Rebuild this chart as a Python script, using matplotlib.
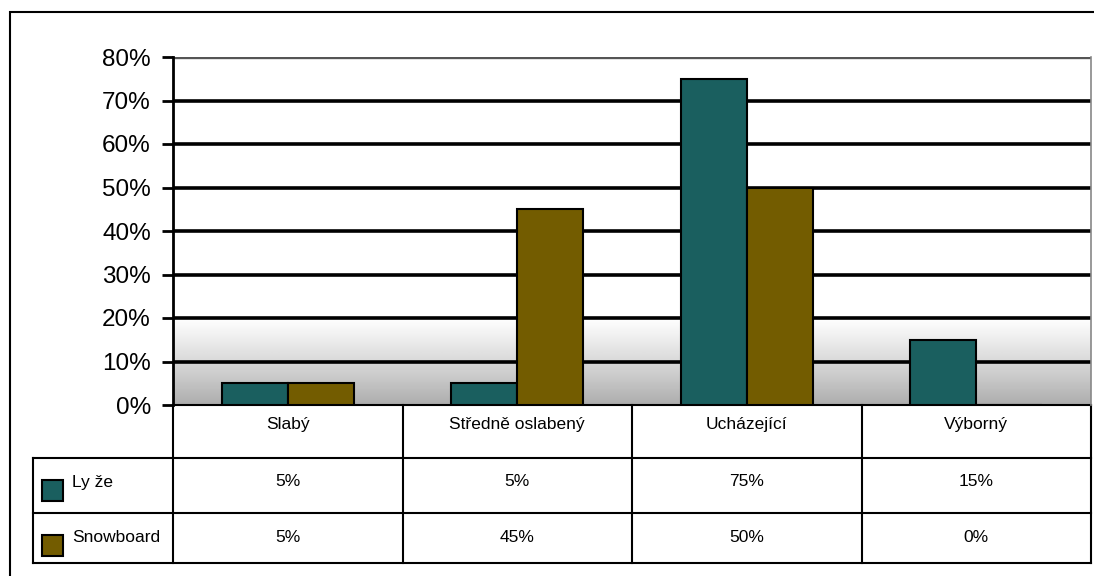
import numpy as np
import matplotlib
matplotlib.use('Agg')
import matplotlib.pyplot as plt
from matplotlib.patches import Rectangle
from matplotlib.lines import Line2D

plt.rcParams['font.family'] = ['Liberation Sans', 'DejaVu Sans']

categories = ['Slabý', 'Středně oslabený', 'Ucházející', 'Výborný']
series_names = ['Ly že', 'Snowboard']
lyze = [0.05, 0.05, 0.75, 0.15]
snowboard = [0.05, 0.45, 0.50, 0.00]
lyze_labels = ['5%', '5%', '75%', '15%']
snowboard_labels = ['5%', '45%', '50%', '0%']
yticks = [0, 0.1, 0.2, 0.3, 0.4, 0.5, 0.6, 0.7, 0.8]
ytick_labels = ['0%', '10%', '20%', '30%', '40%', '50%', '60%', '70%', '80%']

teal = '#1a5f5f'
brown = '#735c00'
colors = [teal, brown]

W, H = 1094, 576
fig = plt.figure(figsize=(W / 100, H / 100), dpi=100)
fig.patch.set_facecolor('white')

# outer frame
fig.patches.append(Rectangle((10 / W, -0.1), 1.2, 1 - 12 / H + 0.1,
                             transform=fig.transFigure, fill=False,
                             edgecolor='black', linewidth=1.5))

ax = fig.add_axes([173 / W, 1 - 405 / H, 918 / W, 348 / H])
ax.set_xlim(-0.5, 3.5)
ax.set_ylim(0, 0.8)

# gradient floor between 0% and 20%
grad = np.linspace(0.52, 1.0, 256) ** 0.6
grad = np.vstack([grad, grad]).T
ax.imshow(grad, cmap='gray', vmin=0, vmax=1, origin='lower', aspect='auto',
          extent=(-0.5, 3.5, 0, 0.2), zorder=0)

for y in yticks[1:]:
    ax.axhline(y, color='black', linewidth=2.6, zorder=1)
ax.axhline(0.8, color='#555555', linewidth=2.4, zorder=1)

x = np.arange(len(categories))
width = 0.287
ax.bar(x - width / 2, lyze, width, color=teal, edgecolor='black',
       linewidth=1.5, zorder=3)
ax.bar(x + width / 2, snowboard, width, color=brown, edgecolor='black',
       linewidth=1.5, zorder=3)

ax.set_yticks(yticks)
ax.set_yticklabels(ytick_labels, fontsize=17.5)
ax.tick_params(axis='y', length=8, width=2, pad=8)
ax.set_xticks([])
for side in ['top', 'bottom']:
    ax.spines[side].set_visible(False)
ax.spines['right'].set_color('#888888')
ax.spines['right'].set_linewidth(1.2)
ax.spines['left'].set_linewidth(2)

# data table below the plot
tr = ax.get_xaxis_transform()
ph = 348.0
row_y = [0, -53 / ph, -108 / ph, -158 / ph]
left = -0.5 - 140 / 229.5
edges = [-0.5, 0.5, 1.5, 2.5, 3.5]
lw = 1.5
fs = 12.5

def line(xs, ys, **kw):
    ax.add_line(Line2D(xs, ys, transform=tr, color='black', linewidth=lw,
                       clip_on=False, **kw))

line([-0.5, -0.5], [0, row_y[3]])
for e in edges[1:]:
    line([e, e], [0, row_y[3]])
line([-0.5, 3.5], [0, 0])
for ry in row_y[1:]:
    line([left, 3.5], [ry, ry])
line([left, left], [row_y[1], row_y[3]])

for i, c in enumerate(categories):
    ax.text(i, -20 / ph, c, transform=tr, ha='center', va='center',
            fontsize=fs)

rows = [lyze_labels, snowboard_labels]
for r in range(2):
    cy = row_y[r + 1] - 24 / ph
    for i in range(len(categories)):
        ax.text(i, cy, rows[r][i], transform=tr, ha='center', va='center',
                fontsize=fs)
    sq_h = 21 / ph
    sq_w = 21 / 229.5
    ax.add_patch(Rectangle((left + 9 / 229.5, cy - 19 / ph), sq_w, sq_h,
                           transform=tr, facecolor=colors[r],
                           edgecolor='black', linewidth=1.5, clip_on=False))
    ax.text(left + 39 / 229.5, cy, series_names[r], transform=tr,
            ha='left', va='center', fontsize=fs)

fig.savefig('out.png', dpi=100)
